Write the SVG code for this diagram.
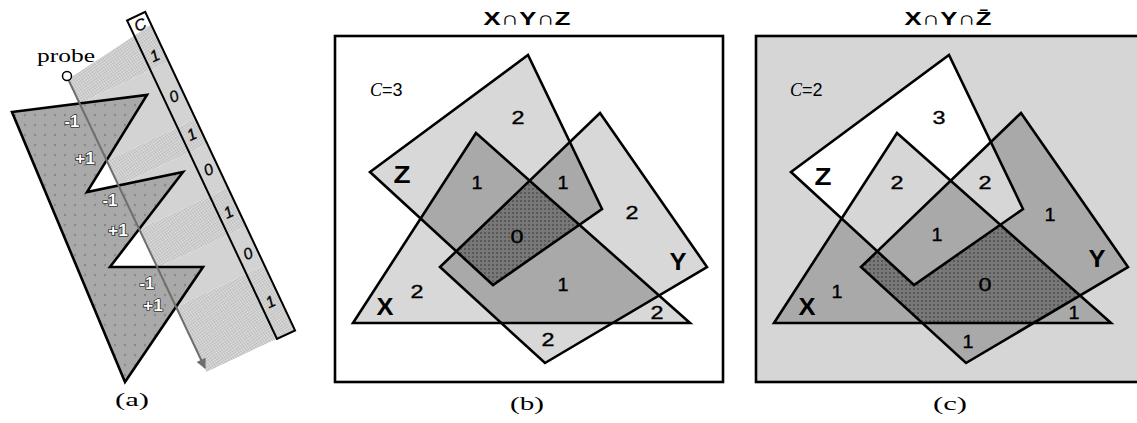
<svg xmlns="http://www.w3.org/2000/svg" xmlns:xlink="http://www.w3.org/1999/xlink" width="1137" height="423" viewBox="0 0 1137 423">
<style>
.ol{fill:none;stroke:#000;stroke-width:2.6;stroke-linejoin:miter}
.lt{fill:#d8d8d8}
.md{fill:#a9a9a9}
.dg{font-family:"Liberation Sans",Arial,sans-serif;font-size:18px;text-anchor:middle;fill:#000;stroke:#000;stroke-width:0.35}
.lb{font-family:"Liberation Sans",Arial,sans-serif;font-size:23px;font-weight:bold;text-anchor:middle;fill:#000}
.tt{font-family:"Liberation Sans","DejaVu Sans",sans-serif;font-size:19px;font-weight:bold;text-anchor:middle;fill:#000}
.cap{font-family:"Liberation Serif","Times New Roman",serif;font-size:18px;text-anchor:middle;fill:#000}
.cc{font-family:"Liberation Sans",Arial,sans-serif;font-size:18px;fill:#000}
.pm{font-family:"Liberation Sans",Arial,sans-serif;font-size:16px;font-weight:bold;text-anchor:middle;fill:#fff;stroke:#000;stroke-width:1.2;paint-order:stroke}
.st{font-family:"Liberation Sans",Arial,sans-serif;font-size:16px;font-style:italic;text-anchor:middle;fill:#000;stroke:#000;stroke-width:0.3}
</style>
<defs>
<pattern id="dots" width="10" height="10" patternUnits="userSpaceOnUse"><rect width="10" height="10" fill="#a9a9a9"/><circle cx="5" cy="5" r="1.2" fill="#888"/></pattern>
<pattern id="dark" width="4" height="4" patternUnits="userSpaceOnUse"><rect width="4" height="4" fill="#787878"/><rect width="2" height="2" fill="#5a5a5a"/></pattern>
<pattern id="chk" width="2" height="2" patternUnits="userSpaceOnUse"><rect width="2" height="2" fill="#e6e6e6"/><rect width="1" height="1" fill="#b4b4b4"/><rect x="1" y="1" width="1" height="1" fill="#b4b4b4"/></pattern>
<marker id="ah" viewBox="0 0 10 10" refX="9" refY="5" markerWidth="6" markerHeight="5" orient="auto" markerUnits="strokeWidth"><path d="M0,0 L10,5 L0,10 z" fill="#6e6e6e"/></marker>
<polygon id="pX" points="353,323 476,133 690,323"/>
<polygon id="pY" points="440,267 600,113 707,267 545,363"/>
<polygon id="pZ" points="370,172 528,55 602,209 493,285"/>
<clipPath id="cX"><use xlink:href="#pX"/></clipPath>
<clipPath id="cY"><use xlink:href="#pY"/></clipPath>
<clipPath id="cZ"><use xlink:href="#pZ"/></clipPath>
<clipPath id="cBand"><polygon points="-88,26 10,12 10,350 -88,350"/></clipPath>
</defs>
<rect width="1137" height="423" fill="#fff"/>

<!-- Panel (a) -->
<g id="panel-a">
  <g id="strip" transform="translate(137,18) rotate(-25.2)">
    <rect x="-10" y="-2" width="20" height="352" fill="#fff"/>
    <g clip-path="url(#cBand)">
      <rect x="-88" y="0" width="98" height="53" fill="url(#chk)"/>
      <rect x="-88" y="53" width="98" height="63" fill="#d3d3d3"/>
      <rect x="-88" y="116" width="98" height="28" fill="url(#chk)"/>
      <rect x="-88" y="144" width="98" height="48" fill="#d3d3d3"/>
      <rect x="-88" y="192" width="98" height="43" fill="url(#chk)"/>
      <rect x="-88" y="235" width="98" height="43" fill="#d3d3d3"/>
      <rect x="-88" y="278" width="98" height="72" fill="url(#chk)"/>
    </g>
    <rect x="-10" y="-2" width="20" height="352" fill="none" stroke="#000" stroke-width="2"/>
    <text class="st" x="0" y="13">C</text>
    <text class="st" x="0" y="47">1</text>
    <text class="st" x="0" y="92">0</text>
    <text class="st" x="0" y="134">1</text>
    <text class="st" x="0" y="173">0</text>
    <text class="st" x="0" y="220">1</text>
    <text class="st" x="0" y="266">0</text>
    <text class="st" x="0" y="319">1</text>
  </g>
  <g id="zigzag">
    <polygon points="12,112 147,95 87,192 183,172 110,267 203,267 125,382" fill="url(#dots)" stroke="#000" stroke-width="2.6" stroke-linejoin="miter"/>
  </g>
  <g id="probe">
    <text class="cap" x="66" y="62" textLength="58" lengthAdjust="spacingAndGlyphs">probe</text>
  </g>
  <g id="connectors">
    <line x1="69" y1="81" x2="205" y2="368" stroke="#6e6e6e" stroke-width="2" marker-end="url(#ah)"/>
    <circle cx="67" cy="76" r="4.5" fill="#fff" stroke="#000" stroke-width="1.5"/>
  </g>
  <g id="crossings">
    <text class="pm" x="72" y="127" textLength="15" lengthAdjust="spacingAndGlyphs">-1</text>
    <text class="pm" x="85" y="164" textLength="20" lengthAdjust="spacingAndGlyphs">+1</text>
    <text class="pm" x="110" y="206" textLength="15" lengthAdjust="spacingAndGlyphs">-1</text>
    <text class="pm" x="118" y="236" textLength="20" lengthAdjust="spacingAndGlyphs">+1</text>
    <text class="pm" x="147" y="289" textLength="15" lengthAdjust="spacingAndGlyphs">-1</text>
    <text class="pm" x="153" y="311" textLength="20" lengthAdjust="spacingAndGlyphs">+1</text>
  </g>
  <text class="cap" x="132" y="406" textLength="34" lengthAdjust="spacingAndGlyphs">(a)</text>
</g>

<!-- Panel (b) -->
<g id="panel-b">
  <text class="tt" x="527" y="25" textLength="87" lengthAdjust="spacingAndGlyphs">X∩Y∩Z</text>
  <rect x="335" y="36" width="388" height="346" fill="#fff" stroke="#000" stroke-width="2.6"/>
  <g id="b-fills">
    <use xlink:href="#pX" class="lt"/>
    <use xlink:href="#pY" class="lt"/>
    <use xlink:href="#pZ" class="lt"/>
    <g clip-path="url(#cX)"><use xlink:href="#pY" class="md"/><use xlink:href="#pZ" class="md"/></g>
    <g clip-path="url(#cY)"><use xlink:href="#pZ" class="md"/></g>
    <g clip-path="url(#cX)"><g clip-path="url(#cY)"><use xlink:href="#pZ" fill="url(#dark)"/></g></g>
  </g>
  <g id="b-X"><use xlink:href="#pX" class="ol"/><text class="lb" x="385" y="315" textLength="17" lengthAdjust="spacingAndGlyphs">X</text></g>
  <g id="b-Y"><use xlink:href="#pY" class="ol"/><text class="lb" x="678" y="270" textLength="17" lengthAdjust="spacingAndGlyphs">Y</text></g>
  <g id="b-Z"><use xlink:href="#pZ" class="ol"/><text class="lb" x="402" y="183" textLength="17" lengthAdjust="spacingAndGlyphs">Z</text></g>
  <g id="b-counts">
    <text class="cc" x="370" y="96"><tspan font-family="Liberation Serif" font-style="italic">C</tspan>=3</text>
    <text class="dg" x="518" y="124" textLength="13" lengthAdjust="spacingAndGlyphs">2</text>
    <text class="dg" x="477" y="189" textLength="11" lengthAdjust="spacingAndGlyphs">1</text>
    <text class="dg" x="563" y="189" textLength="11" lengthAdjust="spacingAndGlyphs">1</text>
    <text class="dg" x="632" y="219" textLength="13" lengthAdjust="spacingAndGlyphs">2</text>
    <text class="dg" x="517" y="243" textLength="13" lengthAdjust="spacingAndGlyphs" fill="#eee" stroke="#000" stroke-width="1" paint-order="stroke">0</text>
    <text class="dg" x="563" y="291" textLength="11" lengthAdjust="spacingAndGlyphs">1</text>
    <text class="dg" x="417" y="298" textLength="13" lengthAdjust="spacingAndGlyphs">2</text>
    <text class="dg" x="657" y="319" textLength="13" lengthAdjust="spacingAndGlyphs">2</text>
    <text class="dg" x="548" y="346" textLength="13" lengthAdjust="spacingAndGlyphs">2</text>
  </g>
  <text class="cap" x="527" y="410" textLength="34" lengthAdjust="spacingAndGlyphs">(b)</text>
</g>

<!-- Panel (c) -->
<g id="panel-c">
  <text class="tt" x="948" y="25" textLength="87" lengthAdjust="spacingAndGlyphs">X∩Y∩Z̄</text>
  <rect x="756" y="36" width="395" height="346" fill="#d6d6d6" stroke="#000" stroke-width="2.6"/>
  <g id="c-fills" transform="translate(421,0)">
    <use xlink:href="#pZ" fill="#fff"/>
    <use xlink:href="#pX" class="md"/>
    <use xlink:href="#pY" class="md"/>
    <g clip-path="url(#cX)"><use xlink:href="#pY" fill="url(#dark)"/></g>
    <g clip-path="url(#cZ)"><use xlink:href="#pX" fill="#d6d6d6"/><use xlink:href="#pY" fill="#d6d6d6"/></g>
    <g clip-path="url(#cZ)"><g clip-path="url(#cX)"><use xlink:href="#pY" class="md"/></g></g>
  </g>
  <g id="c-X" transform="translate(421,0)"><use xlink:href="#pX" class="ol"/></g>
  <g id="c-Y" transform="translate(421,0)"><use xlink:href="#pY" class="ol"/></g>
  <g id="c-Z" transform="translate(421,0)"><use xlink:href="#pZ" class="ol"/></g>
  <g id="c-labels">
    <text class="lb" x="807" y="315" textLength="17" lengthAdjust="spacingAndGlyphs">X</text>
    <text class="lb" x="1097" y="267" textLength="17" lengthAdjust="spacingAndGlyphs">Y</text>
    <text class="lb" x="823" y="185" textLength="17" lengthAdjust="spacingAndGlyphs">Z</text>
    <text class="cc" x="790" y="96"><tspan font-family="Liberation Serif" font-style="italic">C</tspan>=2</text>
    <text class="dg" x="939" y="124" textLength="13" lengthAdjust="spacingAndGlyphs">3</text>
    <text class="dg" x="897" y="189" textLength="13" lengthAdjust="spacingAndGlyphs">2</text>
    <text class="dg" x="985" y="189" textLength="13" lengthAdjust="spacingAndGlyphs">2</text>
    <text class="dg" x="1050" y="221" textLength="11" lengthAdjust="spacingAndGlyphs">1</text>
    <text class="dg" x="937" y="241" textLength="11" lengthAdjust="spacingAndGlyphs">1</text>
    <text class="dg" x="985" y="291" textLength="13" lengthAdjust="spacingAndGlyphs" fill="#eee" stroke="#000" stroke-width="1" paint-order="stroke">0</text>
    <text class="dg" x="837" y="298" textLength="11" lengthAdjust="spacingAndGlyphs">1</text>
    <text class="dg" x="1074" y="319" textLength="11" lengthAdjust="spacingAndGlyphs">1</text>
    <text class="dg" x="968" y="348" textLength="11" lengthAdjust="spacingAndGlyphs">1</text>
  </g>
  <text class="cap" x="950" y="410" textLength="34" lengthAdjust="spacingAndGlyphs">(c)</text>
</g>
</svg>
